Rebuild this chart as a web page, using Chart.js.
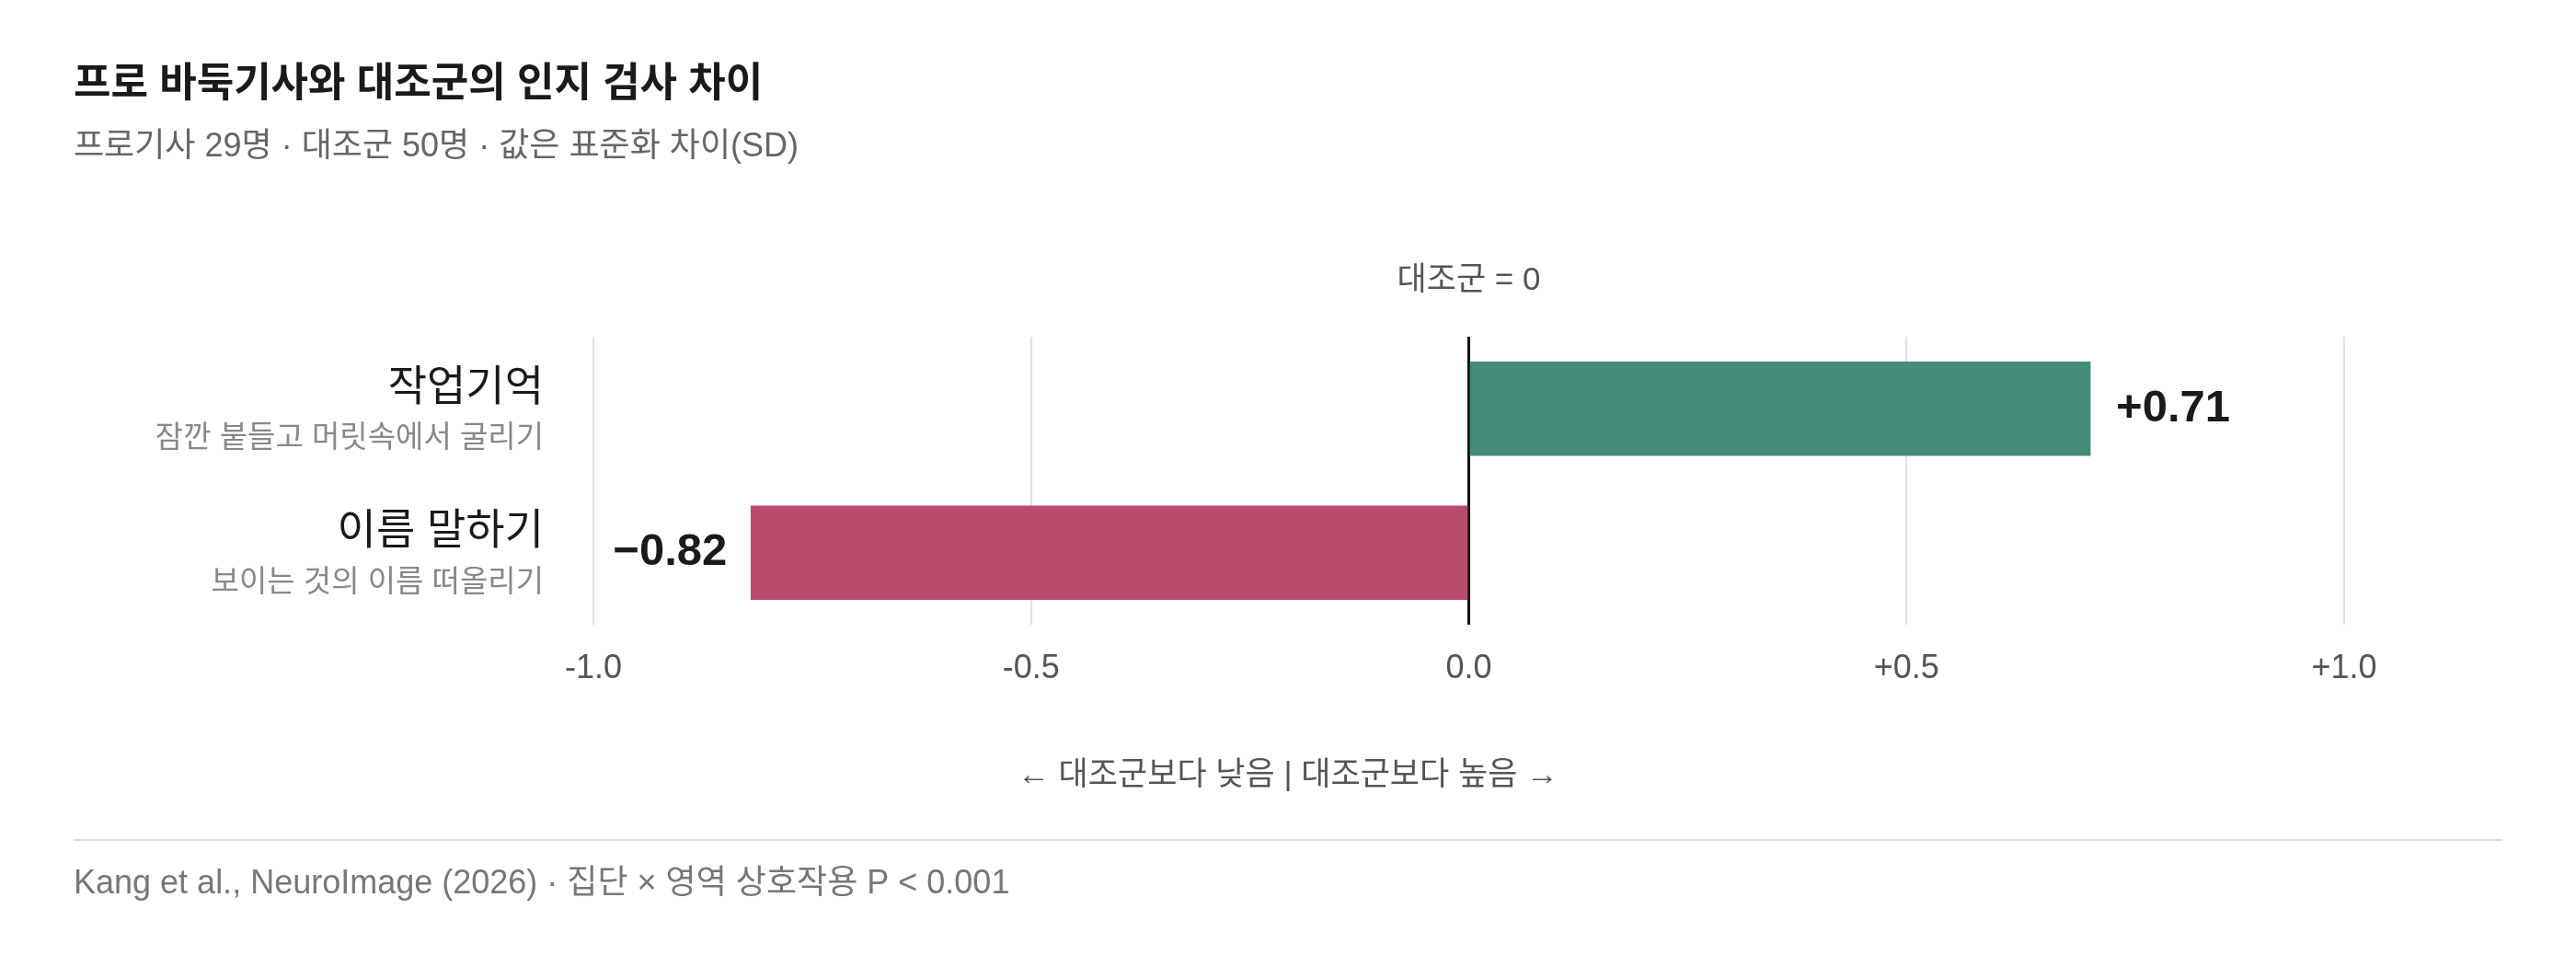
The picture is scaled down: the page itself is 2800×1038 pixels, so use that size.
<!DOCTYPE html>
<html><head><meta charset="utf-8">
<script src="https://cdn.jsdelivr.net/npm/chart.js@4"></script>
<style>html,body{margin:0;padding:0;background:#fff;overflow:hidden}#c{display:block}</style>
</head><body>
<div style="width:2800px;height:1038px"><canvas id="c" width="2800" height="1038"></canvas></div>
<script>
const categories = ['작업기억', '이름 말하기'];
const subLabels = ['잠깐 붙들고 머릿속에서 굴리기', '보이는 것의 이름 떠올리기'];
const values = [0.71, -0.82];
const valueLabels = ['+0.71', '−0.82'];
const tickLabels = {'-1': '-1.0', '-0.5': '-0.5', '0': '0.0', '0.5': '+0.5', '1': '+1.0'};
const colors = ['#448b78', '#b94c6b'];
const FF = '"Liberation Sans", "Noto Sans CJK KR", sans-serif';

const deco = {
  id: 'deco',
  afterDraw(chart) {
    const c = chart.ctx, x = chart.scales.x, y = chart.scales.y;
    c.save();
    c.textBaseline = 'middle';
    c.fillStyle = '#1a1a1a'; c.textAlign = 'left';
    c.font = 'bold 44px ' + FF; c.fillText('프로 바둑기사와 대조군의 인지 검사 차이', 80, 93);
    c.fillStyle = '#666'; c.font = '36px ' + FF;
    c.fillText('프로기사 29명 · 대조군 50명 · 값은 표준화 차이(SD)', 80, 160);
    c.textAlign = 'center'; c.fillStyle = '#555'; c.font = '35px ' + FF;
    c.fillText('대조군 = 0', x.getPixelForValue(0), 305);
    c.fillText('← 대조군보다 낮음 | 대조군보다 높음 →', 1400, 843);
    categories.forEach((cat, i) => {
      const yc = y.getPixelForValue(i);
      c.textAlign = 'right';
      c.fillStyle = '#1a1a1a'; c.font = '46px ' + FF;
      c.fillText(cat, 591, yc - 22);
      c.fillStyle = '#888'; c.font = '33px ' + FF;
      c.fillText(subLabels[i], 591, yc + 33);
      c.fillStyle = '#1a1a1a'; c.font = 'bold 49px ' + FF;
      const xe = x.getPixelForValue(values[i]);
      if (values[i] >= 0) { c.textAlign = 'left'; c.fillText(valueLabels[i], xe + 28, yc); }
      else { c.textAlign = 'right'; c.fillText(valueLabels[i], xe - 26, yc); }
    });
    c.strokeStyle = '#ddd'; c.lineWidth = 2;
    c.beginPath(); c.moveTo(80, 913); c.lineTo(2720, 913); c.stroke();
    c.textAlign = 'left'; c.fillStyle = '#777'; c.font = '36px ' + FF;
    c.fillText('Kang et al., NeuroImage (2026) · 집단 × 영역 상호작용 P < 0.001', 80, 961);
    c.restore();
  }
};

new Chart(document.getElementById('c'), {
  type: 'bar',
  data: { labels: categories, datasets: [{ data: values, backgroundColor: colors, barThickness: 102 }] },
  options: {
    indexAxis: 'y', responsive: false, animation: false, devicePixelRatio: 1,
    layout: { padding: { left: 645, right: 252, top: 366, bottom: 0 } },
    plugins: { legend: { display: false }, tooltip: { enabled: false } },
    scales: {
      x: {
        min: -1, max: 1,
        afterBuildTicks(s) { s.ticks = [-1, -0.5, 0, 0.5, 1].map(v => ({ value: v })); },
        afterFit(s) { s.height = 359; },
        border: { display: false },
        grid: {
          drawTicks: false,
          color: ctx => ctx.tick && ctx.tick.value === 0 ? '#111' : '#e0e0e0',
          lineWidth: ctx => ctx.tick && ctx.tick.value === 0 ? 3 : 2
        },
        ticks: { padding: 26, color: '#555', font: { size: 36, family: FF },
          callback: v => tickLabels[String(v)] }
      },
      y: { display: false }
    }
  },
  plugins: [deco]
});
</script>
</body></html>
